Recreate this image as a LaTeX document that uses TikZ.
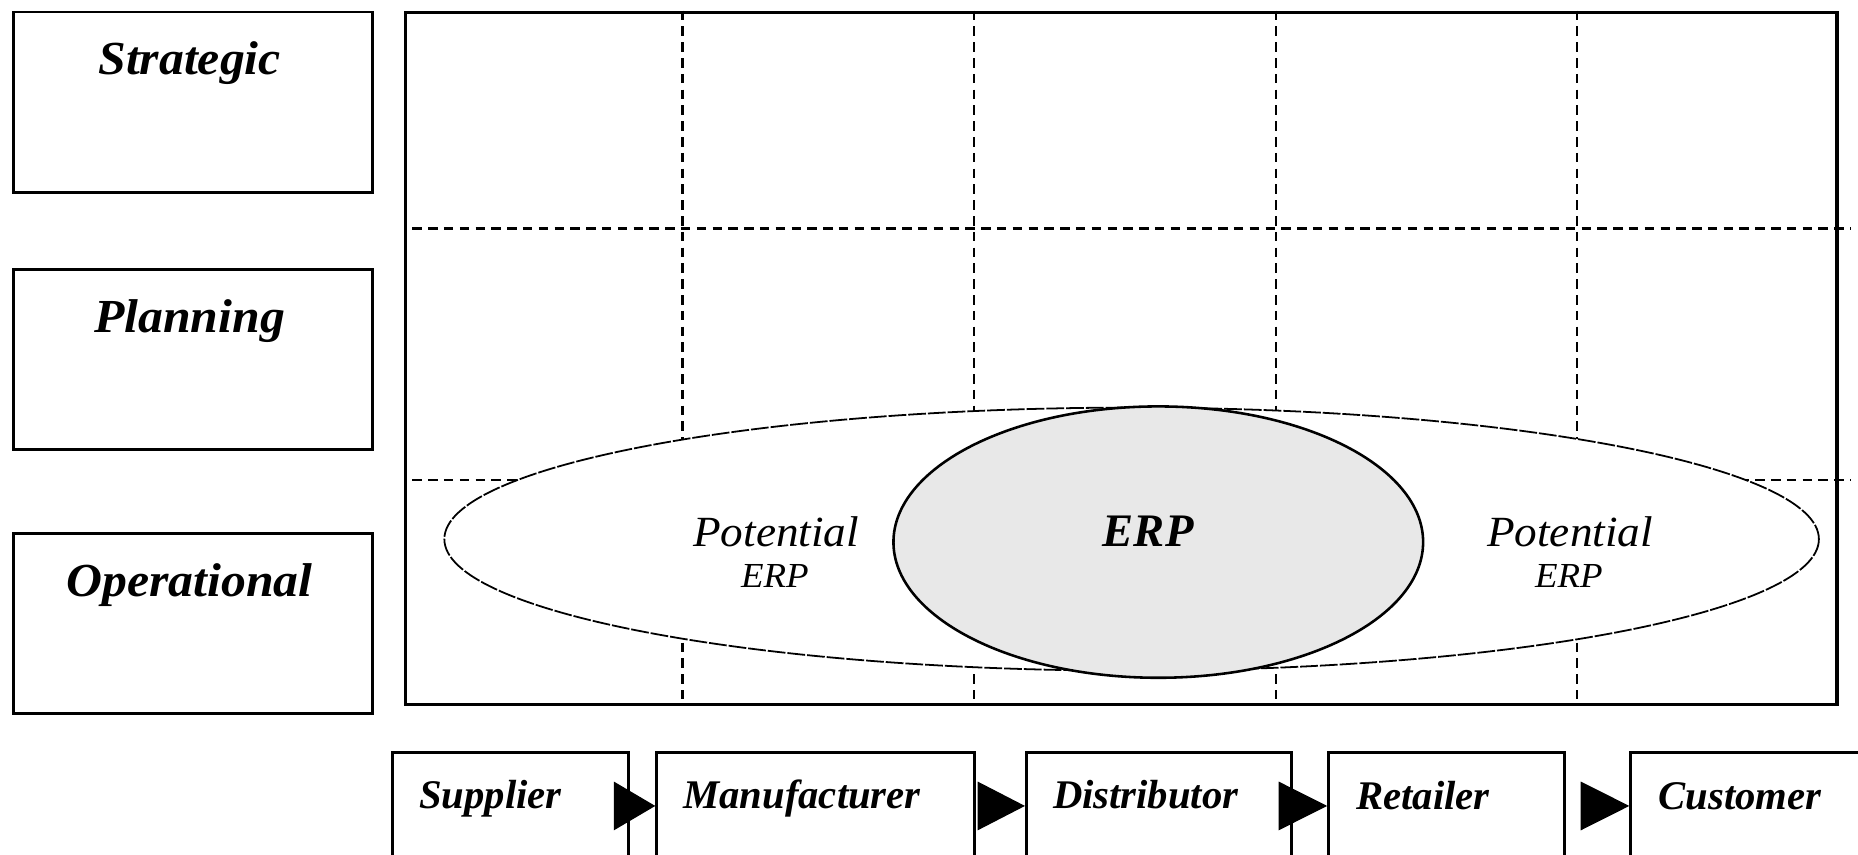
\documentclass[tikz,border=0pt]{standalone}
\usepackage{fontspec}
\setmainfont{Liberation Serif}
\newfontfamily\levelfont[FakeStretch=1.05]{Liberation Serif}
\newfontfamily\potfont[FakeStretch=1.05]{Liberation Serif}
\usetikzlibrary{arrows.meta}

\begin{document}
\begin{tikzpicture}[x=0.3pt, y=-0.3pt,
  box/.style={draw, line width=0.7pt, rectangle, inner sep=0pt, anchor=north west},
  levelbox/.style={box, minimum width=90.9pt, minimum height=45.6pt},
  chainbox/.style={box, minimum height=27pt},
  leveltext/.style={inner sep=0pt, anchor=base, font=\levelfont\bfseries\itshape\fontsize{12}{14}\selectfont},
  chaintext/.style={inner sep=0pt, anchor=base west, font=\bfseries\itshape\fontsize{10.3}{12}\selectfont},
  pottext/.style={inner sep=0pt, anchor=base, font=\potfont\itshape\fontsize{10.9}{12}\selectfont},
  potsub/.style={inner sep=0pt, anchor=base, font=\potfont\itshape\fontsize{8.9}{10}\selectfont},
  grid/.style={line width=0.6pt, dash pattern=on 2.4pt off 1.6pt},
  flow/.style={line width=0.3pt, -{Triangle[length=#1, width=12.3pt]}},
]
% canvas
\path[use as bounding box, clip] (0,0) rectangle (1568,721);
\fill[white] (0,0) rectangle (1568,721);

% management levels
\node[levelbox] (strategic) at (10,9) {};
\node[levelbox] (planning) at (10,226) {};
\node[levelbox] (operational) at (10,449) {};
\node[leveltext] (strategicT) at (160,63) {Strategic};
\node[leveltext] (planningT) at (160,281) {Planning};
\node[leveltext] (operationalT) at (160,503) {Operational};

% matrix frame
\node[box, line width=0.8pt, minimum width=362.4pt, minimum height=175.2pt] (frame) at (341,9) {};

% grid
\foreach \gx in {576,822,1077,1331}
  \draw[grid] (\gx,9) -- (\gx,593);
\foreach \gy in {193,405}
  \draw[grid] (348,\gy) -- (1562,\gy);

% potential ERP scope
\filldraw[fill=white, draw=black, line width=0.45pt, dash pattern=on 4.5pt off 0.5pt]
  (955,455) ellipse [x radius=580, y radius=111];
% ERP core
\filldraw[fill=black!9, draw=black, line width=0.65pt]
  (977.5,457.5) ellipse [x radius=223.5, y radius=114.5];

\node[pottext] (potL) at (655,461) {Potential};
\node[potsub] (potLs) at (654,496) {ERP};
\node[pottext] (potR) at (1325,461) {Potential};
\node[potsub] (potRs) at (1324,496) {ERP};
\node[inner sep=0pt, anchor=base, font=\bfseries\itshape\fontsize{11.8}{14}\selectfont] (erp) at (969,461) {ERP};

% supply chain
\node[chainbox, minimum width=59.7pt] (sup) at (330,634) {};
\node[chainbox, minimum width=80.4pt] (man) at (553,634) {};
\node[chainbox, minimum width=67.2pt] (dis) at (865,634) {};
\node[chainbox, minimum width=59.7pt] (ret) at (1120,634) {};
\node[chainbox, minimum width=67.5pt] (cus) at (1375,634) {};

\node[chaintext] (supT) at (353,682) {Supplier};
\node[chaintext] (manT) at (576,682) {Manufacturer};
\node[chaintext] (disT) at (888,682) {Distributor};
\node[chaintext] (retT) at (1144,683) {Retailer};
\node[chaintext] (cusT) at (1399,683) {Customer};

\draw[flow=10.5pt] (sup.east) -- (man.west);
\draw[flow=12pt, shorten <=1.4pt] (man.east) -- (dis.west);
\draw[flow=12.3pt] (dis.east) -- (ret.west);
\draw[flow=12.3pt, shorten <=4.4pt] (ret.east) -- (cus.west);
\end{tikzpicture}
\end{document}
